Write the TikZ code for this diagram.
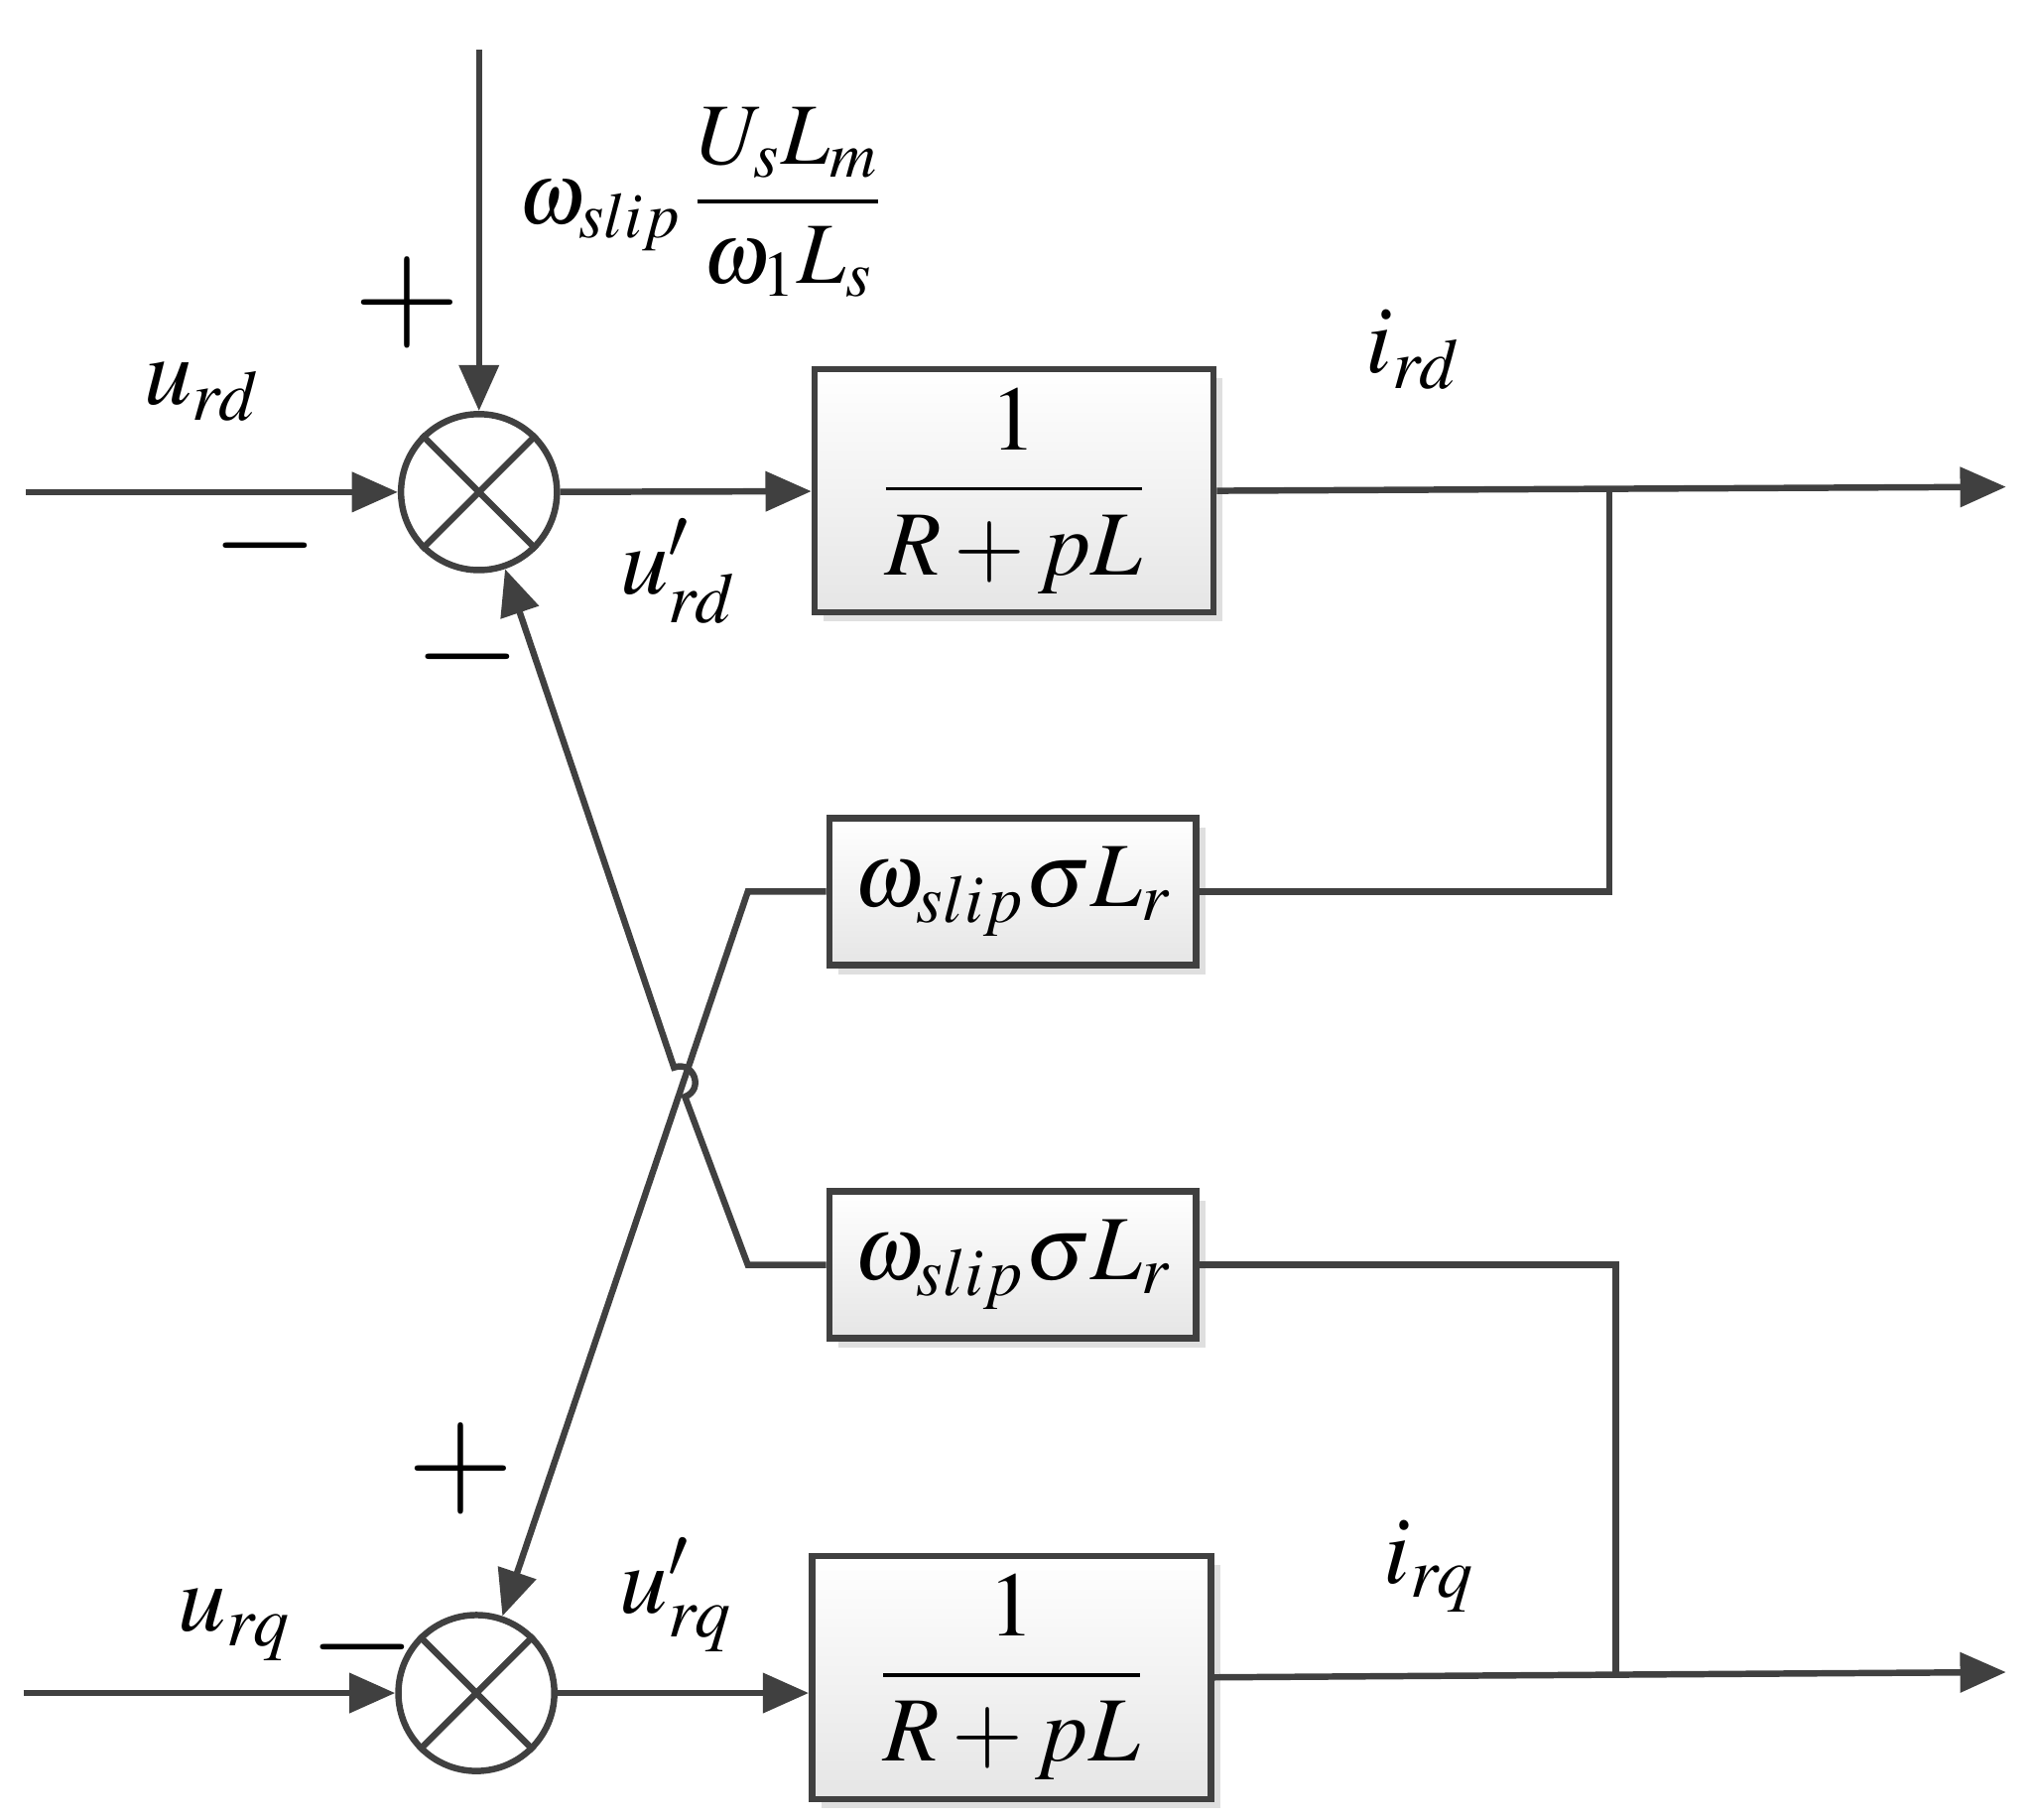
\documentclass[tikz,border=0pt]{standalone}
\usepackage{amsmath}
\usepackage{mathptmx}
\usetikzlibrary{positioning,arrows.meta,shadows}
\tikzset{>={Triangle[length=10pt,width=8.5pt]}}
\tikzset{
    wire/.style={line width=1.4pt,draw=black!75},
    block/.style={rectangle,draw=black!75,line width=1.4pt,top color=white,bottom color=black!10,
        drop shadow={shadow xshift=2pt,shadow yshift=-2pt,fill=black!25},font=\fontsize{20}{24}\selectfont},
    summer/.style={circle,draw=black!75,line width=1.4pt,minimum size=34pt,inner sep=0pt},
    lbl/.style={font=\fontsize{21}{25}\selectfont},
    sgn/.style={font=\fontsize{30}{30}\selectfont},
}
\begin{document}
\begin{tikzpicture}[x=0.1mm,y=-0.1mm]
	\useasboundingbox (0,0) rectangle (1560,1394);
	\node[summer] (s1) at (367,377) {};
	\node[summer] (s2) at (365,1297) {};
	\node[block,minimum width=87pt,minimum height=53pt] (g1) at (777,376) {$\dfrac{1}{R+pL}$};
	\node[block,minimum width=87pt,minimum height=53pt] (g2) at (775,1285) {$\dfrac{1}{R+pL}$};
	\node[block,minimum width=80pt,minimum height=32pt] (k1) at (776,683) {$\omega_{slip}\sigma L_r$};
	\node[block,minimum width=80pt,minimum height=32pt] (k2) at (776,969) {$\omega_{slip}\sigma L_r$};
	\foreach \s in {s1,s2}{
		\draw[wire] (\s.north west) -- (\s.south east);
		\draw[wire] (\s.north east) -- (\s.south west);
	}

	\coordinate (in1) at (20,377);
	\coordinate (in2) at (18,1297);
	\coordinate (top) at (367,38);
	\coordinate (out1) at (1537,373);
	\coordinate (out2) at (1537,1281);
	\coordinate (b1) at (1233,375);
	\coordinate (b2) at (1238,1283);
	\coordinate (c1) at (573,683);
	\coordinate (c2) at (573,969);
	\coordinate (j1) at (524.8,840.2);
	\coordinate (j2) at (516.4,817.8);

	\draw[wire,->] (in1) -- (s1);
	\draw[wire,->] (top) -- (s1);
	\draw[wire,->] (s1) -- (g1);
	\draw[wire,->] (g1.east) -- (out1);
	\draw[wire] (b1) |- (k1.east);
	\draw[wire,->] (k1.west) -- (c1) -- (s2);
	\draw[wire,->] (k2.west) -- (c2) -- (j1) .. controls +(15,-5.6) and +(15,-5.6) .. (j2) -- (s1);
	\draw[wire,->] (in2) -- (s2);
	\draw[wire,->] (s2) -- (g2.west |- s2);
	\draw[wire,->] (g2.east) -- (out2);
	\draw[wire] (k2.east) -| (b2);

	\node[lbl] (urd) at (155,300) {$u_{rd}$};
	\node[lbl] (urd2) at (520,438) {$u'_{rd}$};
	\node[lbl] (ird) at (1083,268) {$i_{rd}$};
	\node[lbl] (urq) at (180,1245) {$u_{rq}$};
	\node[lbl] (urq2) at (518,1222) {$u'_{rq}$};
	\node[lbl] (irq) at (1095,1200) {$i_{rq}$};
	\node[lbl,anchor=west,font=\fontsize{19}{23}\selectfont] (ff) at (385,155) {$\omega_{slip}\,\dfrac{U_sL_m}{\omega_1L_s}$};
	\node[sgn] at (312,232) {$+$};
	\node[sgn] at (203,418) {$-$};
	\node[sgn] at (358,503) {$-$};
	\node[sgn] at (353,1125) {$+$};
	\node[sgn] at (278,1262) {$-$};
\end{tikzpicture}
\end{document}
